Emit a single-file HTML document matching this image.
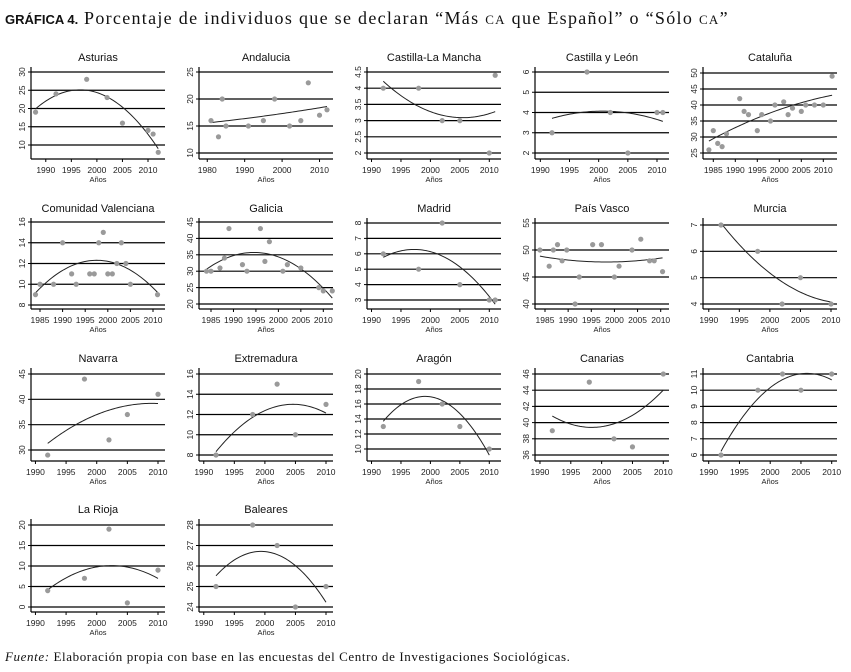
<!DOCTYPE html>
<html><head><meta charset="utf-8">
<style>
body{margin:0;background:#fff;}
svg{display:block;}
.tt{font-family:"Liberation Sans",sans-serif;font-size:11px;fill:#111;}
.tk{font-family:"Liberation Sans",sans-serif;font-size:8.5px;fill:#222;}
.ax{font-family:"Liberation Sans",sans-serif;font-size:7.5px;fill:#222;}
</style></head>
<body>
<svg id="chart" width="851" height="672" viewBox="0 0 851 672" xmlns="http://www.w3.org/2000/svg">
<text x="5" y="24"><tspan font-family="Liberation Sans,sans-serif" font-weight="bold" font-size="13" fill="#111">GRÁFICA 4.</tspan><tspan font-family="Liberation Serif,serif" font-size="18" fill="#111" letter-spacing="1.3"> Porcentaje de individuos que se declaran “Más <tspan font-size="13">CA</tspan> que Español” o “Sólo <tspan font-size="13">CA</tspan>”</tspan></text>
<text x="5" y="661" font-family="Liberation Serif,serif" font-size="13" fill="#111" letter-spacing="0.6"><tspan font-style="italic">Fuente:</tspan> Elaboración propia con base en las encuestas del Centro de Investigaciones Sociológicas.</text>
</svg>
<script>
// ---- data (years and values per region) ----
const asturiasYears=[1988,1992,1998,2002,2005,2010,2011,2012];
const asturiasValues=[19,24,28,23,16,14,13,8];
const andaluciaYears=[1981,1983,1984,1985,1991,1995,1998,2002,2005,2007,2010,2012];
const andaluciaValues=[16,13,20,15,15,16,20,15,16,23,17,18];
const clmYears=[1992,1998,2002,2005,2010,2011];
const clmValues=[4,4,3,3,2,4.4];
const cylYears=[1992,1998,2002,2005,2010,2011];
const cylValues=[3,6,4,2,4,4];
const catalunaYears=[1984,1985,1986,1987,1988,1991,1992,1993,1995,1996,1998,1999,2001,2002,2003,2005,2006,2008,2010,2012];
const catalunaValues=[26,32,28,27,31,42,38,37,32,37,35,40,41,37,39,38,40,40,40,49];
const valenciaYears=[1984,1985,1988,1990,1992,1993,1996,1997,1998,1999,2000,2001,2002,2003,2004,2005,2011];
const valenciaValues=[9,10,10,14,11,10,11,11,14,15,11,11,12,14,12,10,9];
const galiciaYears=[1984,1985,1987,1988,1989,1992,1993,1996,1997,1998,2001,2002,2005,2009,2010,2012];
const galiciaValues=[30,30,31,34,43,32,30,43,33,39,30,32,31,25,24,24];
const madridYears=[1992,1998,2002,2005,2010,2011];
const madridValues=[6,5,8,4,3,3];
const vascoYears=[1983.9,1985.9,1986.8,1987.7,1988.7,1989.7,1991.5,1992.4,1995.3,1997.2,2000,2001,2003.8,2005.7,2007.6,2008.6,2010.4];
const vascoValues=[50,47,50,51,48,50,40,45,51,51,45,47,50,52,48,48,46];
const murciaYears=[1992,1998,2002,2005,2010];
const murciaValues=[7,6,4,5,4];
const navarraYears=[1992,1998,2002,2005,2010];
const navarraValues=[29,44,32,37,41];
const extremaduraYears=[1992,1998,2002,2005,2010];
const extremaduraValues=[8,12,15,10,13];
const aragonYears=[1992,1998,2002,2005,2010];
const aragonValues=[13,19,16,13,10];
const canariasYears=[1992,1998,2002,2005,2010];
const canariasValues=[39,45,38,37,46];
const cantabriaYears=[1992,1998,2002,2005,2010];
const cantabriaValues=[6,10,11,10,11];
const riojaYears=[1992,1998,2002,2005,2010];
const riojaValues=[4,7,19,1,9];
const balearesYears=[1992,1998,2002,2005,2010];
const balearesValues=[25,28,27,24,25];
// tick label arrays
const ticks5=[1990,1995,2000,2005,2010];
const ticks85=[1985,1990,1995,2000,2005,2010];
const ticks80=[1980,1990,2000,2010];

const colX=[[31,165],[199,333],[367,501],[535,669],[703,837]];
const rowY=[[67,159],[218,309],[368,461],[519,612]];

const panels=[
 {name:'Asturias',slug:'asturias',c:0,r:0,xs:asturiasYears,ys:asturiasValues,xm:[1992,56,2010,148],ym:[30,72,10,145],grid:[10,15,20,25,30],xt:ticks5},
 {name:'Andalucia',slug:'andalucia',c:1,r:0,xs:andaluciaYears,ys:andaluciaValues,xm:[1981,211,2012,327],ym:[25,72,10,153],grid:[10,15,20,25],xt:ticks80},
 {name:'Castilla-La Mancha',slug:'castilla-la-mancha',c:2,r:0,xs:clmYears,ys:clmValues,xm:[1992,383.3,2010,489.3],ym:[4.5,72,2,153],grid:[2,2.5,3,3.5,4,4.5],xt:ticks5},
 {name:'Castilla y León',slug:'castilla-y-leon',c:3,r:0,xs:cylYears,ys:cylValues,xm:[1992,552,2010,657],ym:[6,72,2,153],grid:[2,3,4,5,6],xt:ticks5},
 {name:'Cataluña',slug:'cataluna',c:4,r:0,xs:catalunaYears,ys:catalunaValues,xm:[1985,713.3,2010,823.3],ym:[50,73,25,153],grid:[25,30,35,40,45,50],xt:ticks85},
 {name:'Comunidad Valenciana',slug:'comunidad-valenciana',c:0,r:1,xs:valenciaYears,ys:valenciaValues,xm:[1985,40,2010,153],ym:[16,222,8,305],grid:[8,10,12,14,16],xt:ticks85},
 {name:'Galicia',slug:'galicia',c:1,r:1,xs:galiciaYears,ys:galiciaValues,xm:[1985,211,2010,323.3],ym:[45,222,20,304],grid:[20,25,30,35,40,45],xt:ticks85},
 {name:'Madrid',slug:'madrid',c:2,r:1,xs:madridYears,ys:madridValues,xm:[1992,383.3,2010,489.3],ym:[8,223,3,300],grid:[3,4,5,6,7,8],xt:ticks5},
 {name:'País Vasco',slug:'pais-vasco',c:3,r:1,xs:vascoYears,ys:vascoValues,xm:[1985,545,2010,660.7],ym:[55,223,40,304],grid:[40,45,50,55],xt:ticks85},
 {name:'Murcia',slug:'murcia',c:4,r:1,xs:murciaYears,ys:murciaValues,xm:[1992,721,2010,831],ym:[7,225,4,304],grid:[4,5,6,7],xt:ticks5},
 {name:'Navarra',slug:'navarra',c:0,r:2,xs:navarraYears,ys:navarraValues,xm:[1992,47.7,2010,158],ym:[45,374,30,450],grid:[30,35,40,45],xt:ticks5},
 {name:'Extremadura',slug:'extremadura',c:1,r:2,xs:extremaduraYears,ys:extremaduraValues,xm:[1992,216,2010,326],ym:[16,374,8,455],grid:[8,10,12,14,16],xt:ticks5},
 {name:'Aragón',slug:'aragon',c:2,r:2,xs:aragonYears,ys:aragonValues,xm:[1992,383.3,2010,489.3],ym:[20,374,10,449],grid:[10,12,14,16,18,20],xt:ticks5},
 {name:'Canarias',slug:'canarias',c:3,r:2,xs:canariasYears,ys:canariasValues,xm:[1992,552.3,2010,663.3],ym:[46,374,36,455],grid:[36,38,40,42,44,46],xt:ticks5},
 {name:'Cantabria',slug:'cantabria',c:4,r:2,xs:cantabriaYears,ys:cantabriaValues,xm:[1992,721,2010,831.7],ym:[11,374,6,455],grid:[6,7,8,9,10,11],xt:ticks5},
 {name:'La Rioja',slug:'la-rioja',c:0,r:3,xs:riojaYears,ys:riojaValues,xm:[1992,47.7,2010,158],ym:[20,525,0,607],grid:[0,5,10,15,20],xt:ticks5},
 {name:'Baleares',slug:'baleares',c:1,r:3,xs:balearesYears,ys:balearesValues,xm:[1992,216,2010,326],ym:[28,525,24,607],grid:[24,25,26,27,28],xt:ticks5}
];

const NS='http://www.w3.org/2000/svg';
const svg=document.getElementById('chart');
function mk(tag,attrs,parent){const e=document.createElementNS(NS,tag);for(const k in attrs)e.setAttribute(k,attrs[k]);(parent||svg).appendChild(e);return e;}
function lin(m){return v=>m[1]+(v-m[0])*(m[3]-m[1])/(m[2]-m[0]);}
function quadFit(xs,ys){
  const n=xs.length,mx=xs.reduce((a,b)=>a+b,0)/n;
  let S=[0,0,0,0,0],T=[0,0,0];
  for(let i=0;i<n;i++){const x=xs[i]-mx;let p=1;for(let k=0;k<5;k++){S[k]+=p;if(k<3)T[k]+=p*ys[i];p*=x;}}
  const A=[[S[0],S[1],S[2],T[0]],[S[1],S[2],S[3],T[1]],[S[2],S[3],S[4],T[2]]];
  for(let i=0;i<3;i++){let piv=A[i][i];for(let j=i;j<4;j++)A[i][j]/=piv;for(let r=0;r<3;r++){if(r!==i){const f=A[r][i];for(let j=i;j<4;j++)A[r][j]-=f*A[i][j];}}}
  const a=A[0][3],b=A[1][3],c=A[2][3];
  return x=>{const d=x-mx;return a+b*d+c*d*d;};
}

panels.forEach(p=>{
  const [x0,x1]=colX[p.c],[yt,yb]=rowY[p.r];
  const X=lin(p.xm),Y=lin(p.ym);
  const g=mk('g',{});
  
  
  const t=mk('text',{x:(x0+x1)/2,y:yt-6,'text-anchor':'middle',class:'tt'},g);
  t.textContent=p.name;
  
  
  p.grid.forEach(v=>{
    const y=Y(v);
    const gl=mk('line',{x1:x0,x2:x1,y1:y,y2:y,stroke:'#000','stroke-width':1.2},g);
    
    
    mk('line',{x1:x0-3,x2:x0,y1:y,y2:y,stroke:'#000','stroke-width':1},g);
    const lt=mk('text',{x:0,y:0,'text-anchor':'middle',class:'tk',transform:`translate(${x0-6},${y}) rotate(-90)`},g);
    lt.textContent=String(v);
    
    
  });
  const ya=mk('line',{x1:x0,x2:x0,y1:yt,y2:yb,stroke:'#000','stroke-width':1.2},g);
  
  
  const xa=mk('line',{x1:x0,x2:x1,y1:yb,y2:yb,stroke:'#000','stroke-width':1.2},g);
  
  
  p.xt.forEach(v=>{
    const x=X(v);
    mk('line',{x1:x,x2:x,y1:yb,y2:yb+3,stroke:'#000','stroke-width':1},g);
    const lt=mk('text',{x:x,y:yb+14,'text-anchor':'middle',class:'tk'},g);
    lt.textContent=String(v);
    
    
  });
  const at=mk('text',{x:(x0+x1)/2,y:yb+23,'text-anchor':'middle',class:'ax'},g);
  at.textContent='Años';
  
  
  const f=quadFit(p.xs,p.ys);
  const xmin=Math.min(...p.xs),xmax=Math.max(...p.xs);
  let d='';
  for(let i=0;i<=60;i++){const xv=xmin+(xmax-xmin)*i/60;d+=(i?'L':'M')+X(xv).toFixed(2)+','+Y(f(xv)).toFixed(2);}
  const fl=mk('path',{d:d,fill:'none',stroke:'#222','stroke-width':1},g);
  
  
  p.xs.forEach((xv,i)=>{
    const c=mk('circle',{cx:X(xv),cy:Y(p.ys[i]),r:2.6,fill:'#9a9a9a'},g);
    
    
  });
});
</script>
</body></html>
